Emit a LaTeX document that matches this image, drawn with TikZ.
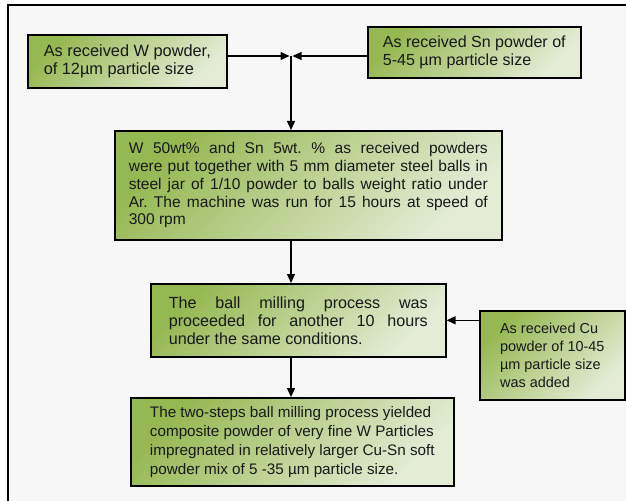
\documentclass[tikz,border=0pt]{standalone}
\usepackage{fontspec}
\setmainfont{Liberation Sans}
\usepackage{tikz}
\usetikzlibrary{arrows.meta}
\definecolor{boxdark}{RGB}{150,184,82}
\definecolor{boxlight}{RGB}{228,236,214}
\definecolor{pagegray}{RGB}{247,247,247}
\frenchspacing
\tikzset{stepbox/.style={draw=black, line width=1.6bp, top color=boxdark, bottom color=boxlight, shading angle=45,
  anchor=north west, inner ysep=0pt, minimum height=#1, text=black!90},
stepbox/.default={50bp},
flow/.style={line width=1.4bp, -{Triangle[length=9bp,width=8bp]}}}

\begin{document}
\begin{tikzpicture}[x=1bp,y=-1bp]
\useasboundingbox (0,0) rectangle (626,501);
\clip (0,0) rectangle (626,501);
% page frame
\draw[line width=2bp, fill=pagegray] (8,5) rectangle (640,515);

% powders in
\node[stepbox=53bp, minimum width=199bp, align=left, font=\fontsize{16.4}{18}\selectfont] (wpow) at (27,34)
  {As received W powder,\\ of 12µm particle size};
\node[stepbox=51bp, minimum width=213bp, align=left, font=\fontsize{16.1}{18}\selectfont] (snpow) at (367,26)
  {As received Sn powder of\\ 5-45 µm particle size};

% milling steps
\node[stepbox=109bp, inner xsep=14bp, text width=359bp, align=justify, font=\fontsize{15.6}{17.8}\selectfont] (mix) at (114,130)
  {W 50wt\% and Sn 5wt. \% as received powders\linebreak
   were put together with 5 mm diameter steel balls in\linebreak
   steel jar of 1/10 powder to balls weight ratio under\linebreak
   Ar. The machine was run for 15 hours at speed of\linebreak
   300 rpm};
\node[stepbox=73bp, minimum width=295bp, inner xsep=14bp, text width=259bp, align=justify, font=\fontsize{16.2}{18}\selectfont] (mill) at (150,283)
  {The ball milling process was\linebreak
   proceeded for another 10 hours\linebreak
   under the same conditions.};
\node[stepbox=89bp, minimum width=145bp, align=left, font=\fontsize{14.5}{18.3}\selectfont] (cupow) at (479,310)
  {As received Cu\\ powder of 10-45\\ µm particle size\\ was added};
\node[stepbox=88bp, minimum width=323bp, align=left, font=\fontsize{15.3}{19}\selectfont] (result) at (130,397)
  {The two-steps ball milling process yielded\\
   composite powder of very fine W Particles\\
   impregnated in relatively larger Cu-Sn soft\\
   powder mix of 5 -35 µm particle size.};

% connectors
\coordinate (join) at (291,56);
\draw[flow] (wpow.east |- join) -- ([xshift=-1.5bp]join);
\draw[flow] (snpow.west |- join) -- ([xshift=1.5bp]join);
\draw[flow] (join) -- (join |- mix.north);
\draw[flow] (join |- mix.south) -- (join |- mill.north);
\draw[flow] (join |- mill.south) -- (join |- result.north);
\draw[flow] (cupow.west |- mill.east) -- (mill.east);
\end{tikzpicture}
\end{document}
